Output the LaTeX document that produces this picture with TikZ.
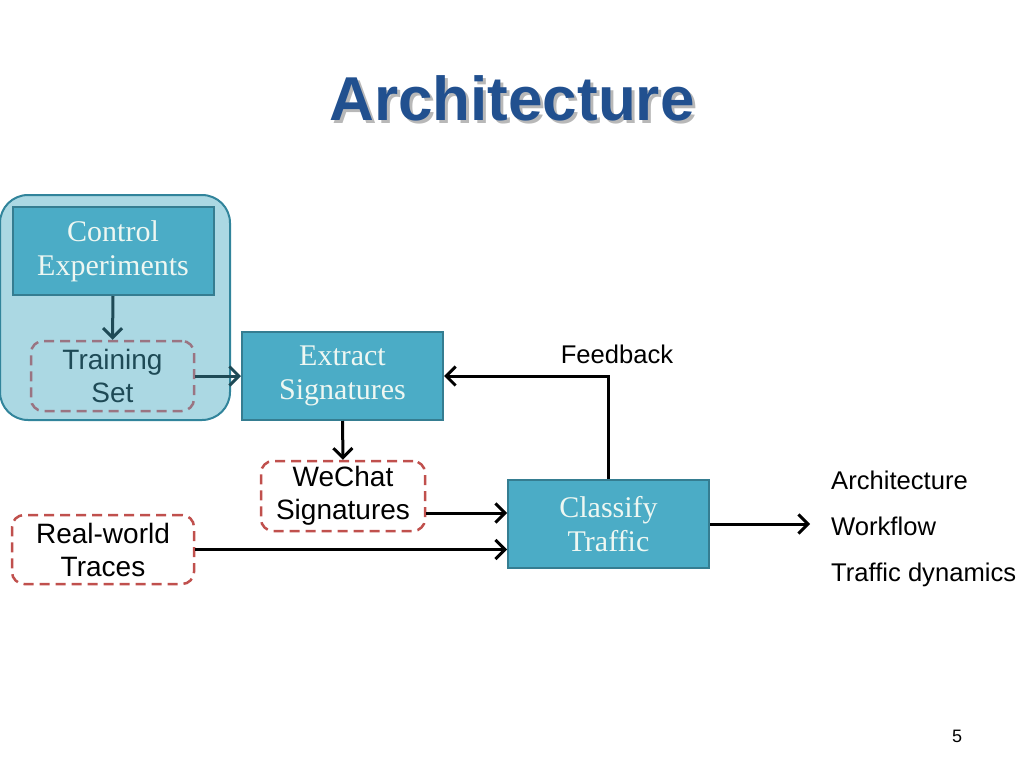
\documentclass[tikz,border=0pt]{standalone}
\usepackage{fontspec}
\setmainfont{Liberation Sans}
\newfontfamily\boxfont{Liberation Serif}
\usetikzlibrary{arrows.meta}
\definecolor{titleblue}{HTML}{21508F}
\definecolor{boxfill}{HTML}{4BACC6}
\definecolor{boxline}{HTML}{357D91}
\definecolor{groupfill}{HTML}{ABD8E3}
\definecolor{groupline}{HTML}{31849B}
\definecolor{darkteal}{HTML}{1E4A56}
\definecolor{dashred}{HTML}{C0504D}
\definecolor{dashmauve}{HTML}{9A7482}
\definecolor{boxtext}{HTML}{EEF7F2}
\tikzset{
  procbox/.style={draw=boxline, fill=boxfill, line width=2pt, minimum width=201pt, minimum height=88pt,
    inner sep=0pt, align=center, text=boxtext, font=\boxfont\fontsize{30}{34}\selectfont},
  databox/.style={draw=dashred, dash pattern=on 10pt off 6pt, line width=2.5pt, rounded corners=12pt,
    minimum width=164pt, minimum height=70pt, inner sep=0pt, align=center, font=\fontsize{28}{33}\selectfont},
  arr/.style={line width=3pt, -{Straight Barb[length=9.5pt,width=19pt,line width=3pt]}},
  plain/.style={font=\fontsize{25.6}{30}\selectfont, inner sep=0pt},
}
\newcommand{\shadowtitle}[1]{\rlap{\hspace{3pt}\raisebox{-3pt}{\textcolor{black!28}{#1}}}\textcolor{titleblue}{#1}}
\begin{document}
\begin{tikzpicture}[x=1pt,y=-1pt]
\useasboundingbox (0,0) rectangle (1024,768);
% title
\node[font=\bfseries\fontsize{62}{70}\selectfont, anchor=base, inner sep=0pt] (title) at (512,120) {\shadowtitle{Architecture}};
% group
\node[draw=groupline, fill=groupfill, line width=2pt, rounded corners=28pt, minimum width=230pt, minimum height=225pt, inner sep=0pt] (group) at (115,307.5) {};
\node[procbox] (control) at (113,251) {Control\\Experiments};
\node[databox, draw=dashmauve, minimum width=163pt, text=darkteal] (train) at (112.5,376) {Training\\Set};
\node[procbox] (extract) at (342.5,376) {Extract\\Signatures};
\node[databox] (wechat) at (343,496) {WeChat\\Signatures};
\node[databox, minimum width=182pt, minimum height=69pt] (real) at (103,549.5) {Real-world\\Traces};
\node[procbox] (classify) at (608.5,524) {Classify\\Traffic};
\node[plain, anchor=base] (feedback) at (617,363) {Feedback};
\node[plain, anchor=base west] (o1) at (831,489) {Architecture};
\node[plain, anchor=base west] (o2) at (831,535) {Workflow};
\node[plain, anchor=base west] (o3) at (831,581) {Traffic dynamics};
\node[font=\fontsize{18}{20}\selectfont, anchor=base] (page) at (957,742) {5};
% connectors
\draw[arr, darkteal] (control.south) -- (train.north);
\draw[arr, darkteal] (train.east) -- (extract.west);
\draw[arr] (extract.south) -- (wechat.north);
\coordinate (w1) at ([yshift=-17pt]wechat.east);
\draw[arr] (w1) -- (w1 -| classify.west);
\draw[arr] (real.east) -- (real.east -| classify.west);
\draw[arr] (classify.north) |- (extract.east);
\coordinate (out) at (810,524);
\draw[arr] (classify.east) -- (out);
\end{tikzpicture}
\end{document}
